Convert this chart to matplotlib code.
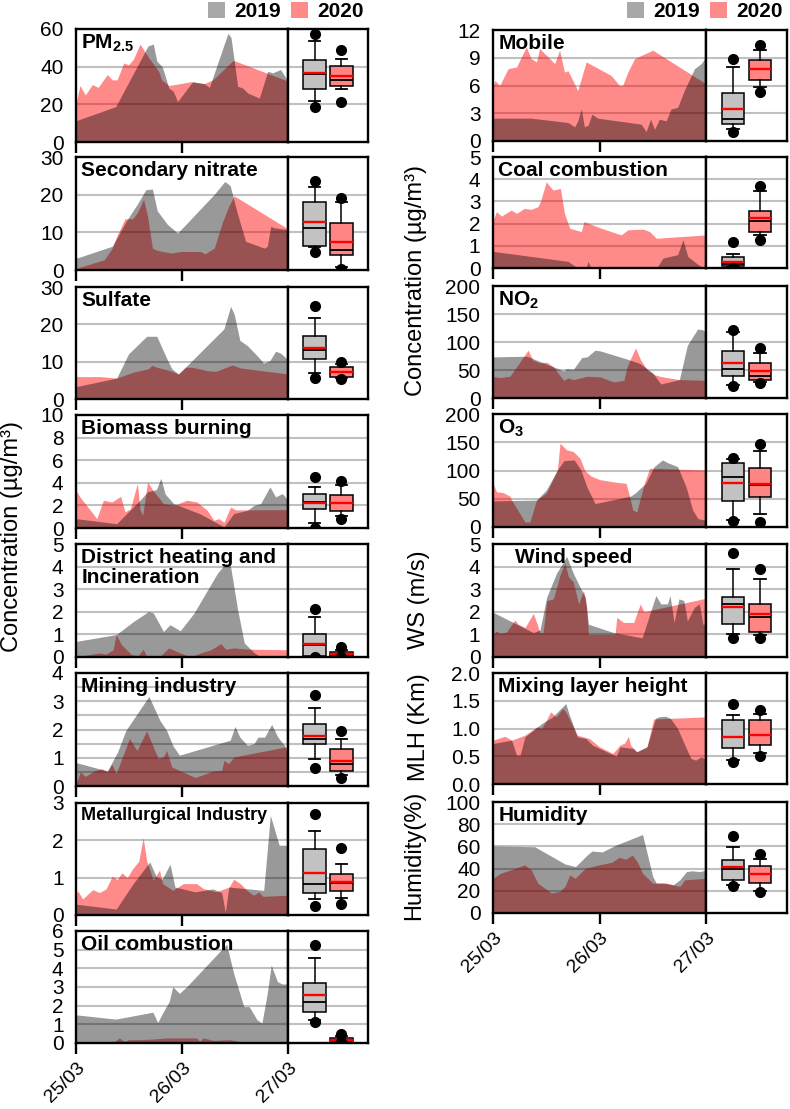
import matplotlib
matplotlib.use('Agg')
import matplotlib.pyplot as plt
from matplotlib.patches import Patch

plt.rcParams['font.family'] = ['Liberation Sans', 'DejaVu Sans']
plt.rcParams['mathtext.fontset'] = 'custom'
plt.rcParams['mathtext.rm'] = 'Liberation Sans'
plt.rcParams['mathtext.bf'] = 'Liberation Sans:bold'
plt.rcParams['mathtext.it'] = 'Liberation Sans:italic'

# hourly series, (hour since 25/03 00:00, value)
pm25_2019 = [(0, 11.3), (9, 18.8), (16.3, 51), (17.5, 52), (18.3, 43), (19.5, 40), (20.2, 35), (21, 28.7), (22, 27),
             (23, 21.5), (26.4, 32), (29, 31), (30.2, 29), (34.4, 57.7), (35.1, 55.5), (36.6, 29.6), (37.7, 28.7),
             (38.9, 26), (41.5, 23.3), (43.4, 37.6), (44.5, 36.7), (46.3, 38.5), (48, 32.3)]
pm25_2020 = [(0, 20.6), (0.9, 30), (2.1, 25), (3.7, 30.5), (5, 29), (7.1, 35.8), (8.2, 33), (9.3, 33), (10.8, 42),
             (11.9, 41), (13, 44), (14.5, 52), (15.3, 49), (16.4, 45), (18.7, 37.6), (19.4, 33), (21, 30), (22.4, 30.5),
             (26, 32), (29, 31), (31, 33), (35.6, 43.4), (48, 32.3)]
nitrate_2019 = [(0, 3.1), (8.2, 6.3), (11.6, 13.4), (13.9, 17.5), (15.8, 21.3), (17.3, 21.5), (18.4, 15.7), (20.7, 12.1),
                (23, 9.8), (25.6, 13), (31.3, 20.1), (33.7, 23.5), (34.9, 22.4), (36.5, 15.2), (38.4, 7.6), (40.6, 6.7),
                (42.6, 5.8), (43.3, 6.3), (44.1, 11.6), (44.9, 11.2), (48, 10.7)]
nitrate_2020 = [(0, 0.4), (4.9, 2.2), (6.4, 2.7), (8.2, 5.8), (9.4, 9.4), (11.1, 13.6), (12.8, 13.6), (13.9, 15.2),
                (15.3, 18.8), (16.2, 14.3), (17.3, 5.8), (18.4, 5.2), (21.5, 4.5), (23.7, 4.9), (28.2, 4.9), (29.2, 4.3),
                (31.3, 5.8), (33.1, 12.5), (34.6, 17), (35.8, 19.7), (48, 10.9)]
sulfate_2019 = [(0, 3.3), (9.2, 5.6), (11.9, 12.1), (16, 16.8), (18.3, 16.8), (20.6, 10.7), (21.7, 8.1), (23.2, 6.7),
                (26.3, 10.3), (33.5, 18.8), (35, 24.8), (35.8, 22.8), (37.1, 15.7), (38.8, 14.3), (41, 11.6),
                (42.5, 9.6), (43.9, 10.3), (45.2, 12.8), (46.3, 12.3), (48, 10.5)]
sulfate_2020 = [(0, 6), (5.5, 6), (9.2, 5.6), (13, 7.2), (16.4, 8.1), (17.2, 9), (18.3, 8.5), (21.3, 7.6), (23.2, 6.7),
                (24.8, 8.5), (26.3, 8.5), (29.7, 7.6), (31.6, 7.4), (35.4, 9.1), (37.3, 8.3), (48, 6.7)]
biomass_2019 = [(0, 0.83), (9.2, 0.38), (14.5, 2.46), (16.2, 3.2), (18.2, 3.4), (19.2, 4.4), (20.2, 3.0), (22.1, 2.16),
                (28, 1.27), (33.5, 0.1), (35.7, 1.27), (38.8, 1.57), (40.3, 2.0), (41.8, 2.16), (43.9, 3.64),
                (45.2, 2.75), (46.7, 3.05), (48, 2.46)]
biomass_2020 = [(0, 3.34), (0.9, 2.75), (2.8, 1.8), (4.7, 0.83), (6.2, 2.46), (8.1, 2.3), (10.1, 2.8), (11.1, 1.42),
                (12.3, 1.7), (13.9, 3.93), (14.5, 1.6), (15.1, 1.12), (16.2, 4.08), (17.4, 3.34), (19.8, 2.16),
                (22.1, 2.0), (25.1, 2.46), (27.4, 2.3), (29.7, 1.57), (31.2, 0.68), (32.3, 0.83), (33.5, 0.5),
                (35, 1.86), (36.2, 1.6), (48, 1.63)]
district_2019 = [(0, 0.69), (9.1, 0.99), (13, 1.57), (16.4, 2.01), (17.5, 1.95), (19.8, 1.13), (21.3, 1.43),
                 (23.6, 1.16), (26.7, 1.94), (32, 3.7), (33.9, 4.15), (35, 4.0), (36.6, 2.09), (38.1, 0.62),
                 (40.4, 0.18), (41.9, 0), (48, 0)]
district_2020 = [(0, 0), (3.8, 0.13), (5.3, 0.18), (6.8, 0.13), (8.4, 0.32), (9.1, 0.99), (10.3, 0.54), (12.6, 0.1),
                 (14.1, 0.07), (15.2, 0.35), (16, 0.03), (19, 0.03), (21, 0.4), (23.6, 0.18), (25.9, 0), (28.2, 0.18),
                 (30.5, 0.32), (32.8, 0.59), (33.9, 0.35), (35.8, 0.4), (38.8, 0.35), (48, 0.32)]
mining_2019 = [(0, 0.83), (7.1, 0.53), (9.4, 1.2), (11.3, 1.97), (16.5, 3.17), (19, 2.32), (20.5, 1.97), (21.9, 1.44),
               (23.4, 1.09), (34.9, 1.62), (36, 2.11), (37.1, 1.73), (38.8, 1.44), (40.3, 1.5), (41.2, 1.73),
               (42.7, 1.73), (44.3, 2.18), (45.7, 1.73), (47.2, 1.44), (48, 1.14)]
mining_2020 = [(0, 0.08), (1, 0.5), (2.1, 0.34), (4.4, 0.55), (5.9, 0.61), (7.1, 0.5), (8.1, 0.77), (9.1, 0.44),
               (12.1, 1.68), (13.8, 1.26), (16, 1.95), (18.6, 0.97), (19.8, 1.03), (20.5, 1.26), (21.7, 0.67),
               (27, 0.3), (31.1, 0.53), (33, 0.55), (33.5, 0.91), (34.5, 0.79), (35.8, 1.03), (48, 1.4)]
metal_2019 = [(0, 0.29), (9.1, 0.16), (13, 0.85), (16.7, 1.42), (18.2, 1.02), (19.5, 0.96), (21.3, 1.36), (22.4, 0.75),
              (27, 0.62), (31, 0.7), (33, 0.6), (33.8, 0.07), (34.6, 0.75), (42.5, 0.66), (44, 2.67), (46, 1.87),
              (48, 1.87)]
metal_2020 = [(0, 0.56), (0.4, 0.65), (1.5, 0.43), (3.8, 0.68), (5.3, 0.6), (6.8, 0.7), (8.2, 1.04), (9.3, 0.95),
              (10.4, 1.13), (11.6, 1.0), (12.7, 1.22), (14.2, 1.44), (15.2, 2.07), (16, 1.46), (17.5, 0.93),
              (18.9, 1.2), (19.6, 0.84), (21.9, 0.66), (24.3, 0.84), (27.3, 0.84), (28.8, 0.71), (31.7, 0.62),
              (34.7, 0.75), (35.7, 0.96), (37.2, 0.84), (38.7, 0.66), (40.2, 0.53), (41.4, 0.62), (42.3, 0.5),
              (48, 0.53)]
oil_2019 = [(0, 1.51), (9, 1.28), (17.4, 1.65), (18.5, 1.1), (19.6, 1.6), (21.1, 2.22), (21.9, 3.02), (23.4, 2.66),
            (25, 3.0), (34.1, 5.29), (35.7, 3.73), (38, 1.95), (39.2, 1.95), (41, 1.24), (42.1, 1.07), (43.3, 2.66),
            (44.2, 4.17), (45.6, 3.29), (46.7, 3.16), (48, 3.16)]
oil_2020 = [(0, 0), (8.2, 0), (9.8, 0.27), (10.9, 0.09), (12, 0.18), (14.3, 0.18), (17.4, 0.21), (20.4, 0.27),
            (27.3, 0.27), (28, 0.09), (28.8, 0.27), (31.1, 0.14), (34.9, 0.18), (36.8, 0.09), (37.2, 0), (48, 0)]
mobile_2019 = [(0, 2.47), (8.6, 2.47), (16.9, 2.0), (18.4, 1.53), (19.1, 2.18), (19.9, 3.45), (20.6, 1.53), (21.4, 1.7),
               (22.3, 2.9), (23.6, 2.47), (33.4, 1.82), (34.5, 1.02), (35.5, 2.36), (36.4, 1.27), (37.5, 2.36),
               (39, 2.18), (40.1, 3.45), (41.6, 3.64), (43.1, 5.45), (45.4, 7.82), (46.9, 8.36), (48, 9.09)]
mobile_2020 = [(0, 5.82), (0.4, 6.55), (1.5, 6.0), (3.4, 7.82), (5.3, 8.0), (7.5, 10.18), (8.6, 8.91), (9.8, 8.55),
               (10.5, 10.0), (12.4, 9.09), (13.9, 8.36), (15, 9.82), (16.1, 7.45), (16.9, 7.6), (19.1, 5.45),
               (21, 8.55), (26.6, 7.09), (28.5, 6.0), (29.2, 6.0), (30.4, 7.45), (31.9, 8.91), (36, 9.82), (48, 6.18)]
coal_2019 = [(0, 0.75), (16.9, 0.3), (19.1, 0), (21, 0), (21.4, 0.3), (22.1, 0), (34.1, 0), (37.1, 0.07), (38.3, 0.45),
             (41.6, 0.6), (42.8, 1.27), (43.9, 0.52), (45.8, 0.22), (47.3, 0), (48, 0)]
coal_2020 = [(0, 2.16), (0.8, 2.54), (1.9, 2.34), (4.1, 2.61), (5.3, 2.46), (7.1, 2.69), (8.6, 2.64), (10.1, 2.76),
             (10.7, 3.0), (12, 3.88), (13.5, 3.51), (15.2, 3.58), (16.1, 2.46), (17.3, 1.79), (19.9, 1.64),
             (20.5, 2.09), (24.4, 1.79), (28.9, 1.49), (30.4, 1.72), (33.8, 1.75), (35.3, 1.64), (36.8, 1.34),
             (48, 1.49)]
no2_2019 = [(0, 73.4), (7.6, 74.6), (15.9, 48.4), (16.6, 52.5), (18.1, 51), (20, 72.2), (21.2, 73.4), (23, 85.4),
            (24.2, 84), (30, 70), (33, 62), (36, 45), (37.8, 25), (42, 32.8), (43.8, 94.3), (46.1, 123), (47.2, 122),
            (48, 118)]
no2_2020 = [(0, 38.8), (1.5, 36.4), (3.8, 38.8), (5.3, 55.5), (7.9, 85.4), (9, 67.5), (10.6, 62.7), (12.1, 64),
            (13.6, 55.5), (15.9, 31.6), (17, 35.8), (18.1, 32.8), (21.2, 38.8), (24.2, 37.6), (27.2, 28.7),
            (29.5, 31.6), (30.2, 55.5), (32.1, 89.6), (33.3, 67.5), (34.8, 49.6), (36.3, 41.8), (38, 38), (42, 33),
            (48, 31.6)]
o3_2019 = [(0, 46.3), (9.8, 47.5), (12, 65.3), (14.5, 100.9), (16, 117.5), (18.3, 118.7), (19.8, 100.9), (21.2, 70),
           (23, 41.5), (31, 54.6), (32, 60), (34.4, 77.2), (36.3, 106.8), (38.2, 118.7), (39.3, 114), (41.6, 106.8),
           (43.5, 71.2), (45, 29.7), (46.2, 14.8), (48, 11.9)]
o3_2020 = [(0, 77.2), (0.8, 62.3), (2.3, 61), (3.8, 54.6), (4.2, 47.5), (7.2, 8.9), (8.3, 8.9), (9.8, 47.5), (12, 60),
           (14.5, 100), (15.1, 148.4), (16.6, 136.5), (18.1, 133.5), (19.6, 121.7), (20.7, 100), (22.1, 90), (24, 84),
           (27, 80), (30, 77.2), (30.8, 53.4), (31.5, 30), (32.4, 26.7), (34.1, 77.2), (35.3, 104), (48, 100.9)]
wind_2019 = [(0, 1.98), (9.1, 1.08), (10.6, 1.2), (12.1, 2.65), (14.3, 3.7), (16.6, 4.45), (18.1, 3.7), (19.6, 3.1),
             (20.8, 2.65), (21.5, 1.45), (27.2, 1.08), (33.6, 0.85), (36.7, 2.72), (37.8, 2.35), (39.3, 2.35),
             (39.9, 2.72), (40.8, 1.53), (41.9, 2.57), (43, 2.5), (43.8, 1.6), (45.4, 2.2), (46.5, 2.35), (47.3, 1.45),
             (48, 1.45)]
wind_2020 = [(0, 1.0), (0.8, 1.15), (1.5, 1.05), (3, 1.1), (4.9, 1.63), (5.7, 1.45), (7.2, 1.3), (9.1, 1.93),
             (10.6, 1.08), (11.3, 1.08), (12.1, 2.5), (13.6, 2.57), (15.1, 3.62), (16.2, 4.15), (17, 3.55),
             (18.1, 3.32), (19.3, 2.35), (20.4, 2.95), (21.1, 2.2), (21.5, 1.0), (27.5, 1.0), (27.9, 1.75),
             (29.4, 1.53), (31.7, 1.53), (33.2, 2.35), (34.0, 2.0), (48, 2.6)]
mlh_2019 = [(0, 0.73), (4.2, 0.79), (5.3, 0.52), (6.1, 0.52), (7.2, 0.85), (11, 1.09), (13.3, 1.2), (16.4, 1.45),
            (17.1, 1.27), (19, 0.85), (20.9, 0.82), (22.4, 0.7), (27.8, 0.5), (28.6, 0.67), (31.6, 0.64), (32.4, 0.58),
            (34.7, 0.67), (36.6, 1.18), (37.3, 1.21), (38.9, 1.22), (40, 1.18), (41.6, 1.0), (43.4, 0.67),
            (44.6, 0.46), (45.7, 0.43), (46.9, 0.49), (48, 0.44)]
mlh_2020 = [(0, 0.79), (1.1, 0.82), (2.7, 0.86), (4.2, 0.79), (7.2, 0.88), (9.9, 1.03), (11, 1.0), (13, 1.3),
            (14.2, 1.21), (15.7, 1.36), (16.4, 1.3), (19, 0.88), (21.7, 0.82), (24, 0.67), (27, 0.55), (28.6, 0.7),
            (29.7, 0.74), (30.5, 0.86), (31, 0.7), (32.4, 0.58), (34.7, 0.67), (36.2, 1.17), (48, 1.21)]
humid_2019 = [(0, 60.3), (9.4, 59.7), (16.2, 44.2), (18.6, 41.8), (21.2, 52.2), (22.3, 55.8), (24.6, 55), (27.6, 61),
              (33.7, 70.7), (36, 32.8), (36.8, 26.9), (38.3, 27), (40.6, 25.4), (42.1, 29.9), (43.6, 37.3),
              (44.8, 38), (46.7, 37.3), (48, 38.8)]
humid_2020 = [(0, 31.3), (1.7, 35.8), (4, 38.8), (7.1, 43.3), (8.6, 39), (10.1, 26.9), (13.2, 17.9), (15, 19.4),
              (16.2, 23.9), (17.3, 34.3), (18.5, 31.3), (20.8, 40.3), (23.8, 43.3), (26.8, 45.7), (28.4, 50.1),
              (29.9, 48.4), (31.4, 52.2), (32.5, 46.3), (33.7, 35.8), (36, 26.9), (39, 27), (42.1, 23.9), (43.2, 29.9),
              (48, 31.3)]

# box stats: p5, p10, q1, median, q3, p90, p95, mean
box_pm25 = ([18.4, 22, 28.1, 36.3, 43.5, 53.7, 57.3, 36.7], [21.5, 28.1, 29.9, 33.1, 40.3, 43.9, 48.9, 34.9])
box_nitrate = ([4.9, 6.0, 6.5, 11.1, 18.1, 22.1, 23.5, 12.7], [0.2, 0.9, 3.9, 5.4, 12.4, 18.1, 19.2, 7.4])
box_sulfate = ([5.6, 6.9, 10.7, 13.0, 16.8, 21.8, 24.9, 13.7], [5.4, 5.6, 6.0, 7.3, 8.5, 9.4, 9.8, 7.2])
box_biomass = ([0.03, 0.47, 1.66, 2.3, 3.0, 3.64, 4.47, 2.25], [0.83, 1.07, 1.48, 2.2, 2.96, 3.8, 4.17, 2.25])
box_district = ([0.0, 0.02, 0.03, 0.55, 1.03, 1.79, 2.12, 0.59], [0.0, 0.02, 0.03, 0.12, 0.2, 0.32, 0.44, 0.13])
box_mining = ([0.65, 0.97, 1.49, 1.68, 2.18, 2.76, 3.21, 1.78], [0.3, 0.38, 0.53, 0.79, 1.30, 1.68, 1.94, 0.9])
box_metal = ([0.24, 0.44, 0.59, 0.84, 1.76, 2.24, 2.70, 1.13], [0.30, 0.46, 0.63, 0.86, 1.09, 1.36, 1.80, 0.88])
box_oil = ([1.12, 1.21, 1.65, 2.22, 3.23, 4.53, 5.27, 2.58], [0.04, 0.08, 0.12, 0.17, 0.27, 0.36, 0.48, 0.18])
box_mobile = ([1.02, 1.27, 1.82, 2.36, 5.16, 8.0, 8.84, 3.45], [5.35, 5.89, 6.62, 7.8, 8.8, 9.82, 10.36, 7.82])
box_coal = ([0.0, 0.03, 0.07, 0.2, 0.48, 0.63, 1.19, 0.25], [1.27, 1.49, 1.63, 2.13, 2.58, 3.48, 3.70, 2.24])
box_no2 = ([21.5, 22.7, 38.8, 51.3, 83.6, 117, 122, 62.7], [26.9, 28.7, 32.8, 39.4, 63.3, 81.2, 88.4, 48.4])
box_o3 = ([10.7, 11.9, 45.7, 89, 112.8, 119.9, 121.7, 77.2], [8.9, 23.7, 53.4, 75, 105, 134.7, 147.2, 75.4])
box_wind = ([0.85, 1.03, 1.45, 2.35, 2.65, 3.91, 4.6, 2.23], [0.82, 0.97, 1.11, 1.75, 2.35, 3.46, 3.91, 1.9])
box_mlh = ([0.39, 0.43, 0.65, 0.84, 1.15, 1.24, 1.44, 0.84], [0.50, 0.56, 0.71, 0.89, 1.15, 1.26, 1.33, 0.89])
box_humid = ([23.9, 25.4, 29.9, 39.5, 47.8, 59.7, 69.3, 41.2], [18.8, 19.4, 26.9, 35, 42.4, 48.4, 53.1, 34.9])

date_labels = ['25/03', '26/03', '27/03']

W, H = 790, 1109
fig = plt.figure(figsize=(7.9, 11.09), dpi=100)

C19 = (0, 0, 0, 0.4)
C20 = (1, 0, 0, 0.46)
GRID = '#c0c0c0'


def box_stats(b):
    p5, p10, q1, med, q3, p90, p95, mean = b
    return dict(med=med, q1=q1, q3=q3, whislo=p10, whishi=p90, mean=mean, fliers=[p5, p95])


def panel(col, top, bot, s19, s20, boxes, ymax, yticks, grid, title, last=False,
          tx=0.025, tsize=15, fmt=None):
    if col == 0:
        x0, x1, x2 = 76, 288, 368
    else:
        x0, x1, x2 = 493, 706, 787
    ax = fig.add_axes([x0 / W, 1 - bot / H, (x1 - x0) / W, (bot - top) / H])
    bx = fig.add_axes([x1 / W, 1 - bot / H, (x2 - x1) / W, (bot - top) / H])
    for a in (ax, bx):
        a.set_ylim(0, ymax)
        for g in grid:
            a.axhline(g, color=GRID, lw=1.5, zorder=0)
        for sp in a.spines.values():
            sp.set_linewidth(1.7)
            sp.set_zorder(5)

    h20, v20 = zip(*s20)
    h19, v19 = zip(*s19)
    ax.fill_between(h20, v20, color=C20, lw=0, zorder=1)
    ax.fill_between(h19, v19, color=C19, lw=0, zorder=2)
    ax.set_xlim(0, 48)
    ax.set_yticks(yticks)
    if fmt:
        ax.set_yticklabels([fmt.format(t) for t in yticks])
    ax.tick_params(axis='y', length=0, pad=9, labelsize=15)
    if last:
        ax.set_xticks([0, 24, 48])
        ax.set_xticklabels(date_labels, fontsize=14, rotation=45, ha='right', va='top',
                           rotation_mode='anchor')
    else:
        ax.set_xticks([0, 24])
        ax.set_xticklabels([])
    ax.tick_params(axis='x', length=8, width=1.7, direction='out', pad=4)
    ax.text(tx, 0.965, title, transform=ax.transAxes, fontsize=tsize, fontweight='bold',
            va='top', ha='left', zorder=6, linespacing=1.05)

    res = bx.bxp([box_stats(boxes[0]), box_stats(boxes[1])], positions=[1, 2], widths=0.85,
                 patch_artist=True, showmeans=True, meanline=True,
                 boxprops=dict(linewidth=1.1, edgecolor='black'),
                 medianprops=dict(color='black', linewidth=1.3),
                 meanprops=dict(color='red', linewidth=1.7, linestyle='-'),
                 whiskerprops=dict(color='black', linewidth=1.1),
                 capprops=dict(color='black', linewidth=1.3),
                 flierprops=dict(marker='o', markerfacecolor='black', markeredgecolor='black', markersize=7))
    res['boxes'][0].set_facecolor('#c2c2c2')
    res['boxes'][1].set_facecolor('#ff8585')
    for k in res:
        for art in res[k]:
            art.set_zorder(3)
    bx.set_xlim(0, 3)
    bx.set_xticks([])
    bx.set_yticks([])
    return ax


left_rows = [(29, 142), (157, 270), (287, 399), (415, 528), (544, 657), (673, 786), (803, 915), (931, 1043)]
right_rows = [(30, 141), (157, 268), (286, 398), (414, 527), (544, 657), (673, 784), (802, 913)]

r = left_rows
panel(0, *r[0], pm25_2019, pm25_2020, box_pm25, 60, [0, 20, 40, 60], [20, 40], r'PM$_{\mathbf{2.5}}$')
panel(0, *r[1], nitrate_2019, nitrate_2020, box_nitrate, 30, [0, 10, 20, 30], [10, 20], 'Secondary nitrate')
panel(0, *r[2], sulfate_2019, sulfate_2020, box_sulfate, 30, [0, 10, 20, 30], [10, 20], 'Sulfate')
panel(0, *r[3], biomass_2019, biomass_2020, box_biomass, 10, [0, 2, 4, 6, 8, 10], [2, 4, 6, 8], 'Biomass burning')
panel(0, *r[4], district_2019, district_2020, box_district, 5, [0, 1, 2, 3, 4, 5], [1, 2, 3, 4],
      'District heating and\nIncineration')
panel(0, *r[5], mining_2019, mining_2020, box_mining, 4, [0, 1, 2, 3, 4], [0.5, 1, 1.5, 2, 2.5, 3, 3.5],
      'Mining industry')
panel(0, *r[6], metal_2019, metal_2020, box_metal, 3, [0, 1, 2, 3], [1, 2], 'Metallurgical Industry', tsize=13)
panel(0, *r[7], oil_2019, oil_2020, box_oil, 6, [0, 1, 2, 3, 4, 5, 6], [1, 2, 3, 4, 5], 'Oil combustion', last=True)

r = right_rows
panel(1, *r[0], mobile_2019, mobile_2020, box_mobile, 12, [0, 3, 6, 9, 12], [3, 6, 9], 'Mobile')
panel(1, *r[1], coal_2019, coal_2020, box_coal, 5, [0, 1, 2, 3, 4, 5], [1, 2, 3, 4], 'Coal combustion')
panel(1, *r[2], no2_2019, no2_2020, box_no2, 200, [0, 50, 100, 150, 200], [50, 100, 150], r'NO$_{\mathbf{2}}$')
panel(1, *r[3], o3_2019, o3_2020, box_o3, 200, [0, 50, 100, 150, 200], [50, 100, 150], r'O$_{\mathbf{3}}$')
panel(1, *r[4], wind_2019, wind_2020, box_wind, 5, [0, 1, 2, 3, 4, 5], [1, 2, 3, 4], 'Wind speed', tx=0.105)
panel(1, *r[5], mlh_2019, mlh_2020, box_mlh, 2.0, [0, 0.5, 1.0, 1.5, 2.0], [0.5, 1.0, 1.5],
      'Mixing layer height', fmt='{:.1f}')
panel(1, *r[6], humid_2019, humid_2020, box_humid, 100, [0, 20, 40, 60, 80, 100], [20, 40, 60, 80], 'Humidity',
      last=True)

# axis labels
fig.text(12 / W, 1 - 537 / H, 'Concentration (µg/m³)', rotation=90, ha='center', va='center', fontsize=17)
fig.text(416 / W, 1 - 280 / H, 'Concentration (µg/m³)', rotation=90, ha='center', va='center', fontsize=17)
fig.text(419 / W, 1 - 600 / H, 'WS (m/s)', rotation=90, ha='center', va='center', fontsize=17)
fig.text(419 / W, 1 - 727 / H, 'MLH (Km)', rotation=90, ha='center', va='center', fontsize=17)
fig.text(414 / W, 1 - 855 / H, 'Humidity(%)', rotation=90, ha='center', va='center', fontsize=17)

handles = [Patch(facecolor='#a8a8a8', edgecolor='none'), Patch(facecolor='#ff8a8a', edgecolor='none')]
for xr in (366, 785):
    fig.legend(handles, ['2019', '2020'], loc='upper right', bbox_to_anchor=(xr / W, 1.0), ncol=2,
               frameon=False, prop=dict(weight='bold', size=15), handlelength=0.8, handleheight=0.8,
               handletextpad=0.45, columnspacing=0.5, borderpad=0.1, borderaxespad=0)

fig.savefig('out.png', dpi=100)
